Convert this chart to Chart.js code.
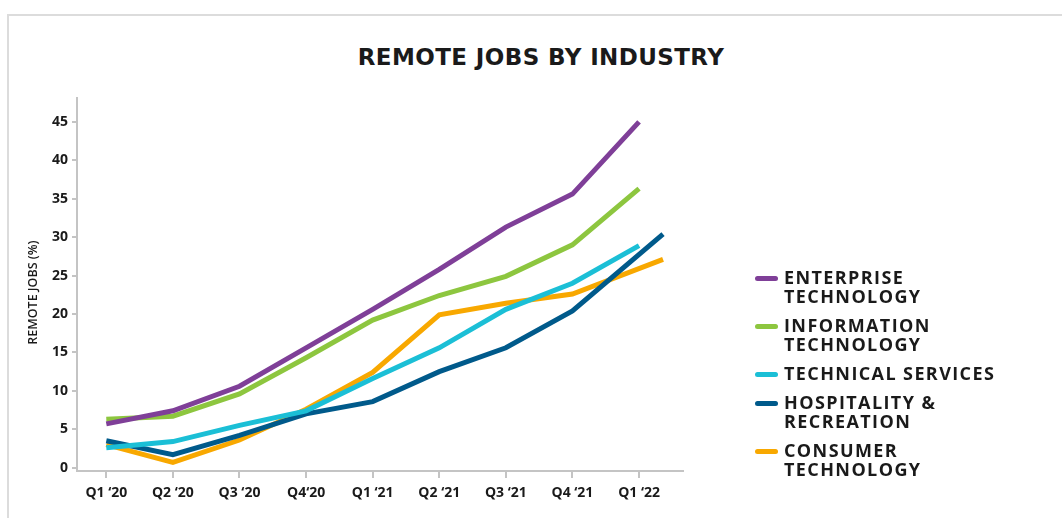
<!DOCTYPE html>
<html lang="en">
<head>
<meta charset="UTF-8">
<title>Remote Jobs by Industry</title>
<script src="https://cdn.jsdelivr.net/npm/chart.js"></script>
<style>
    body {
        margin: 0;
        width: 1062px;
        height: 518px;
        overflow: hidden;
        background: #fff;
        font-family: "Open Sans", sans-serif;
    }
    #frame {
        position: absolute;
        left: 7px;
        top: 14px;
        right: 0;
        bottom: 0;
        border-top: 2px solid #dcdcdc;
        border-left: 2px solid #dcdcdc;
    }
    #wrap {
        position: absolute;
        left: 0;
        top: 0;
        width: 1062px;
        height: 518px;
    }
    #title {
        position: absolute;
        left: 0;
        top: 42px;
        width: 1082px;
        text-align: center;
        font-family: "DejaVu Sans", sans-serif;
        font-weight: bold;
        font-size: 23px;
        line-height: 30px;
        color: #1a1a1a;
        letter-spacing: 0.4px;
    }
    #legend {
        position: absolute;
        left: 755px;
        top: 268px;
        margin: 0;
        padding: 0;
        list-style: none;
    }
    #legend li {
        display: flex;
        align-items: flex-start;
        margin-bottom: 10px;
        font-size: 18px;
        line-height: 19px;
        font-weight: 700;
        color: #1a1a1a;
        letter-spacing: 1.4px;
    }
    #legend .swatch {
        width: 23px;
        height: 5px;
        border-radius: 3px;
        margin-top: 8px;
        margin-right: 6px;
        flex: none;
    }
</style>
</head>
<body>
<div id="frame"></div>
<div id="title">REMOTE JOBS BY INDUSTRY</div>
<div id="wrap"><canvas id="chart" width="1062" height="518"></canvas></div>
<ul id="legend"></ul>

<script>
    // quarters on the x axis
    const quarters = ['Q1 \u201820', 'Q2 \u201820', 'Q3 \u201820', 'Q4\u201820', 'Q1 \u201821', 'Q2 \u201821', 'Q3 \u201821', 'Q4 \u201821', 'Q1 \u201822'];
    const quarterX = [0, 1, 2, 3, 4, 5, 6, 7, 8];
    // two series run a bit past the last quarter in the original
    const lateX = [0, 1, 2, 3, 4, 5, 6, 7, 8.36];

    const enterprise = [5.7, 7.4, 10.6, 15.6, 20.6, 25.8, 31.3, 35.6, 45.0];
    const information = [6.3, 6.7, 9.6, 14.3, 19.2, 22.4, 24.9, 29.0, 36.3];
    const technical = [2.6, 3.4, 5.5, 7.4, 11.6, 15.6, 20.6, 24.0, 28.9];
    const hospitality = [3.5, 1.7, 4.2, 7.0, 8.6, 12.5, 15.6, 20.4, 30.4];
    const consumer = [3.0, 0.7, 3.6, 7.6, 12.4, 19.9, 21.4, 22.6, 27.1];

    const yTicks = [0, 5, 10, 15, 20, 25, 30, 35, 40, 45];

    const seriesNames = [
        ['ENTERPRISE', 'TECHNOLOGY'],
        ['INFORMATION', 'TECHNOLOGY'],
        ['TECHNICAL SERVICES'],
        ['HOSPITALITY &', 'RECREATION'],
        ['CONSUMER', 'TECHNOLOGY']
    ];
    const seriesColors = ['#7f3f98', '#8dc63f', '#1bbfd6', '#005a8b', '#f8a800'];

    function points(xs, ys) {
        return ys.map((y, i) => ({ x: xs[i], y: y }));
    }

    const allData = [
        points(quarterX, enterprise),
        points(quarterX, information),
        points(quarterX, technical),
        points(lateX, hospitality),
        points(lateX, consumer)
    ];

    const datasets = allData.map((d, i) => ({
        label: seriesNames[i].join(' '),
        data: d,
        borderColor: seriesColors[i],
        borderWidth: 5,
        pointRadius: 0,
        fill: false,
        tension: 0
    }));

    const axisColor = '#c4c4c4';
    const tickFont = { family: 'Open Sans', size: 14, weight: '700' };

    new Chart(document.getElementById('chart'), {
        type: 'line',
        data: { datasets: datasets },
        options: {
            responsive: false,
            animation: false,
            layout: { padding: { left: 0, right: 379, top: 98, bottom: 0 } },
            plugins: {
                legend: { display: false },
                tooltip: { enabled: false }
            },
            scales: {
                x: {
                    type: 'linear',
                    min: -0.44,
                    max: 8.66,
                    afterBuildTicks: s => { s.ticks = quarterX.map(v => ({ value: v })); },
                    afterFit: s => { s.height = 47; },
                    border: { color: axisColor, width: 2 },
                    grid: { drawOnChartArea: false, drawTicks: true, tickLength: 7, color: axisColor, lineWidth: 2 },
                    ticks: {
                        color: '#1a1a1a',
                        font: tickFont,
                        padding: 7,
                        maxRotation: 0,
                        autoSkip: false,
                        callback: v => quarters[quarterX.indexOf(v)]
                    }
                },
                y: {
                    min: -0.43,
                    max: 48.1,
                    afterBuildTicks: s => { s.ticks = yTicks.map(v => ({ value: v })); },
                    afterFit: s => { s.width = 77; },
                    border: { color: axisColor, width: 2 },
                    grid: { drawOnChartArea: false, drawTicks: true, tickLength: 5, color: axisColor, lineWidth: 2 },
                    ticks: {
                        color: '#1a1a1a',
                        font: tickFont,
                        padding: 4
                    },
                    title: {
                        display: true,
                        // trailing spaces nudge the rotated title down a little
                        text: 'REMOTE JOBS (%)\u00a0\u00a0\u00a0\u00a0\u00a0',
                        color: '#1a1a1a',
                        font: { family: 'Open Sans', size: 12.5, weight: '600' },
                        padding: { top: 26, bottom: 0 }
                    }
                }
            }
        }
    });

    const legend = document.getElementById('legend');
    seriesNames.forEach((name, i) => {
        const li = document.createElement('li');
        li.innerHTML = '<span class="swatch" style="background:' + seriesColors[i] + '"></span><span>' + name.join('<br>') + '</span>';
        legend.appendChild(li);
    });
</script>
</body>
</html>
